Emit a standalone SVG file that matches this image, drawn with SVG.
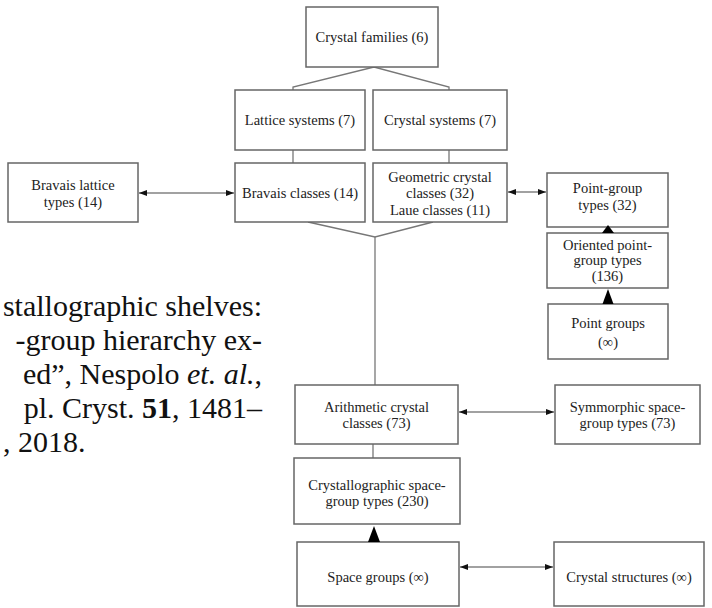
<svg xmlns="http://www.w3.org/2000/svg" width="712" height="608" viewBox="0 0 712 608">
<defs>
<marker id="ah" viewBox="0 0 8 6" refX="8" refY="3" markerWidth="8" markerHeight="6" orient="auto-start-reverse" markerUnits="userSpaceOnUse">
<path d="M0,0 L8,3 L0,6 z" fill="#111"/>
</marker>
</defs>
<style>
.box{fill:#fff;stroke:#666;stroke-width:1.5}
.t{font-family:'Liberation Serif','Times New Roman',serif;font-size:14.5px;fill:#222;text-anchor:middle}
.ln{fill:none;stroke:#777;stroke-width:1.3}
.ar{fill:none;stroke:#444;stroke-width:1.2;marker-start:url(#ah);marker-end:url(#ah)}
.tri{fill:#000}
.cap{font-family:'Liberation Serif','Times New Roman',serif;font-size:30px;fill:#111}
</style>
<rect width="712" height="608" fill="#fff"/>
<g id="connectors">
<polyline class="ln" points="293,90 293,87 374,67 449,87 449,90"/>
<line class="ln" x1="293" y1="150" x2="293" y2="163"/>
<line class="ln" x1="449" y1="150" x2="449" y2="163"/>
<polyline class="ln" points="308,222 375,237 433,222"/>
<line class="ln" x1="375" y1="237" x2="375" y2="385"/>
<line class="ln" x1="373" y1="444" x2="373" y2="458"/>
<line class="ar" x1="139" y1="193" x2="234" y2="193"/>
<line class="ar" x1="508" y1="192" x2="546" y2="192"/>
<line class="ar" x1="459" y1="412" x2="554" y2="412"/>
<line class="ar" x1="460" y1="567" x2="553" y2="567"/>
</g>
<g id="crystal-families"><rect class="box" x="306" y="7" width="132" height="60"/><text class="t" x="372" y="42">Crystal families (6)</text></g>
<g id="lattice-systems"><rect class="box" x="235" y="90" width="130" height="60"/><text class="t" x="300" y="125">Lattice systems (7)</text></g>
<g id="crystal-systems"><rect class="box" x="373" y="90" width="134" height="60"/><text class="t" x="440" y="125">Crystal systems (7)</text></g>
<g id="bravais-classes"><rect class="box" x="235" y="163" width="130" height="59"/><text class="t" x="300" y="198">Bravais classes (14)</text></g>
<g id="geometric-classes"><rect class="box" x="373" y="163" width="134" height="59"/><text class="t" x="440" y="182">Geometric crystal</text><text class="t" x="440" y="198">classes (32)</text><text class="t" x="440" y="215">Laue classes (11)</text></g>
<g id="bravais-lattice-types"><rect class="box" x="8" y="163" width="130" height="59"/><text class="t" x="73" y="190">Bravais lattice</text><text class="t" x="73" y="207">types (14)</text></g>
<g id="point-group-types"><rect class="box" x="547" y="173" width="121" height="54"/><text class="t" x="607.5" y="193">Point-group</text><text class="t" x="607.5" y="210">types (32)</text></g>
<g id="oriented-point-group-types"><rect class="box" x="547" y="233" width="121" height="55"/><text class="t" x="607.5" y="250">Oriented point-</text><text class="t" x="607.5" y="265">group types</text><text class="t" x="607.5" y="281">(136)</text></g>
<g id="point-groups"><rect class="box" x="548" y="304" width="120" height="55"/><text class="t" x="608" y="328">Point groups</text><text class="t" x="608" y="347">(∞)</text></g>
<g id="arithmetic-classes"><rect class="box" x="295" y="385" width="163" height="59"/><text class="t" x="376.5" y="411.5">Arithmetic crystal</text><text class="t" x="376.5" y="428">classes (73)</text></g>
<g id="symmorphic-types"><rect class="box" x="555" y="385" width="145" height="59"/><text class="t" x="627.5" y="411.5">Symmorphic space-</text><text class="t" x="627.5" y="428">group types (73)</text></g>
<g id="crystallographic-types"><rect class="box" x="294" y="458" width="166" height="66"/><text class="t" x="377" y="490">Crystallographic space-</text><text class="t" x="377" y="506">group types (230)</text></g>
<g id="space-groups"><rect class="box" x="297" y="542" width="162" height="64"/><text class="t" x="378" y="581.5">Space groups (∞)</text></g>
<g id="crystal-structures"><rect class="box" x="554" y="542" width="150" height="64"/><text class="t" x="629" y="581.5">Crystal structures (∞)</text></g>
<g id="triangles">
<polygon class="tri" points="608,225 602,233 614,233"/>
<polygon class="tri" points="608,289 602.5,304 613.5,304"/>
<polygon class="tri" points="374,526 368,542 380,542"/>
</g>
<g id="caption">
<text class="cap" x="262" y="316" text-anchor="end">stallographic shelves:</text>
<text class="cap" x="262" y="350" text-anchor="end">-group hierarchy ex-</text>
<text class="cap" x="262" y="384" text-anchor="end">ed”, Nespolo <tspan font-style="italic">et.</tspan>  <tspan font-style="italic">al.</tspan>,</text>
<text class="cap" x="262" y="418" text-anchor="end">pl. Cryst. <tspan font-weight="bold">51</tspan>, 1481–</text>
<text class="cap" x="3" y="452">, 2018.</text>
</g>
</svg>
